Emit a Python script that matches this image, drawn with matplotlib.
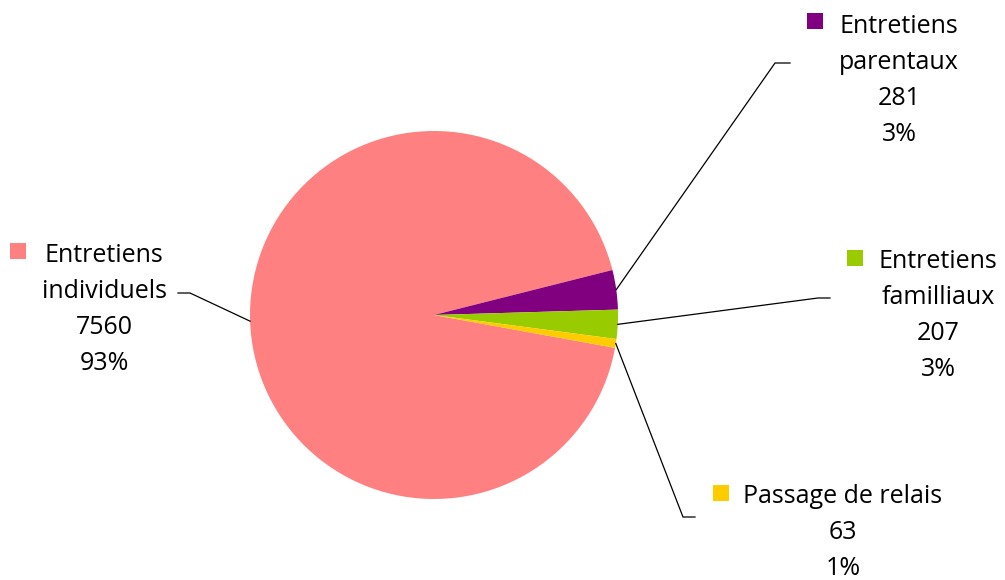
import numpy as np
import matplotlib
matplotlib.use("Agg")
import matplotlib.pyplot as plt

# donnees
categories = ["Entretiens individuels", "Entretiens parentaux", "Entretiens familliaux", "Passage de relais"]
valeurs = [7560, 281, 207, 63]
couleurs = ["#FF8080", "#800080", "#99CC00", "#FFCC00"]
lignes_label = [["Entretiens", "individuels"], ["Entretiens", "parentaux"],
                ["Entretiens", "familliaux"], ["Passage de relais"]]

plt.rcParams["font.family"] = ["Open Sans", "DejaVu Sans"]

W, H = 1005, 580
fig = plt.figure(figsize=(W / 100, H / 100), dpi=100)
ax = fig.add_axes([0, 0, 1, 1])

cx, cy, r = 434, H - 315, 184
wedges, _ = ax.pie(valeurs, colors=couleurs, startangle=-10.3, counterclock=False,
                   center=(cx, cy), radius=r, wedgeprops=dict(linewidth=0))
ax.set_xlim(0, W)
ax.set_ylim(0, H)
ax.set_aspect("equal")
ax.axis("off")

total = sum(valeurs)
# position du texte (centre x, 1re ligne de base en px), carre, coude de la ligne
pos_texte = [(104, 262), (899, 33), (938, 268), (843, 503)]
pos_carre = [(18, 251), (815, 21), (855, 258), (721, 493)]
coude = [((190, 293), (178, 293)), ((775, 63), (790, 63)),
         ((818, 298), (830, 298)), ((683, 517), (695, 517))]
pas = 36

for i, w in enumerate(wedges):
    texte = lignes_label[i] + [str(valeurs[i]), "%d%%" % round(valeurs[i] / total * 100)]
    x0, y0 = pos_texte[i]
    for k, t in enumerate(texte):
        ax.text(x0, H - (y0 + k * pas), t, ha="center", va="baseline", fontsize=18, color="black")
    sx, sy = pos_carre[i]
    ax.add_patch(plt.Rectangle((sx - 8, H - sy - 8), 16, 16, color=couleurs[i], lw=0))
    # ligne de rappel
    a = np.deg2rad((w.theta1 + w.theta2) / 2)
    px, py = cx + r * np.cos(a), cy + r * np.sin(a)
    (c1x, c1y), (c2x, c2y) = coude[i]
    ax.plot([px, c1x, c2x], [py, H - c1y, H - c2y], color="black", lw=0.9)

fig.savefig("out.png", dpi=100)
